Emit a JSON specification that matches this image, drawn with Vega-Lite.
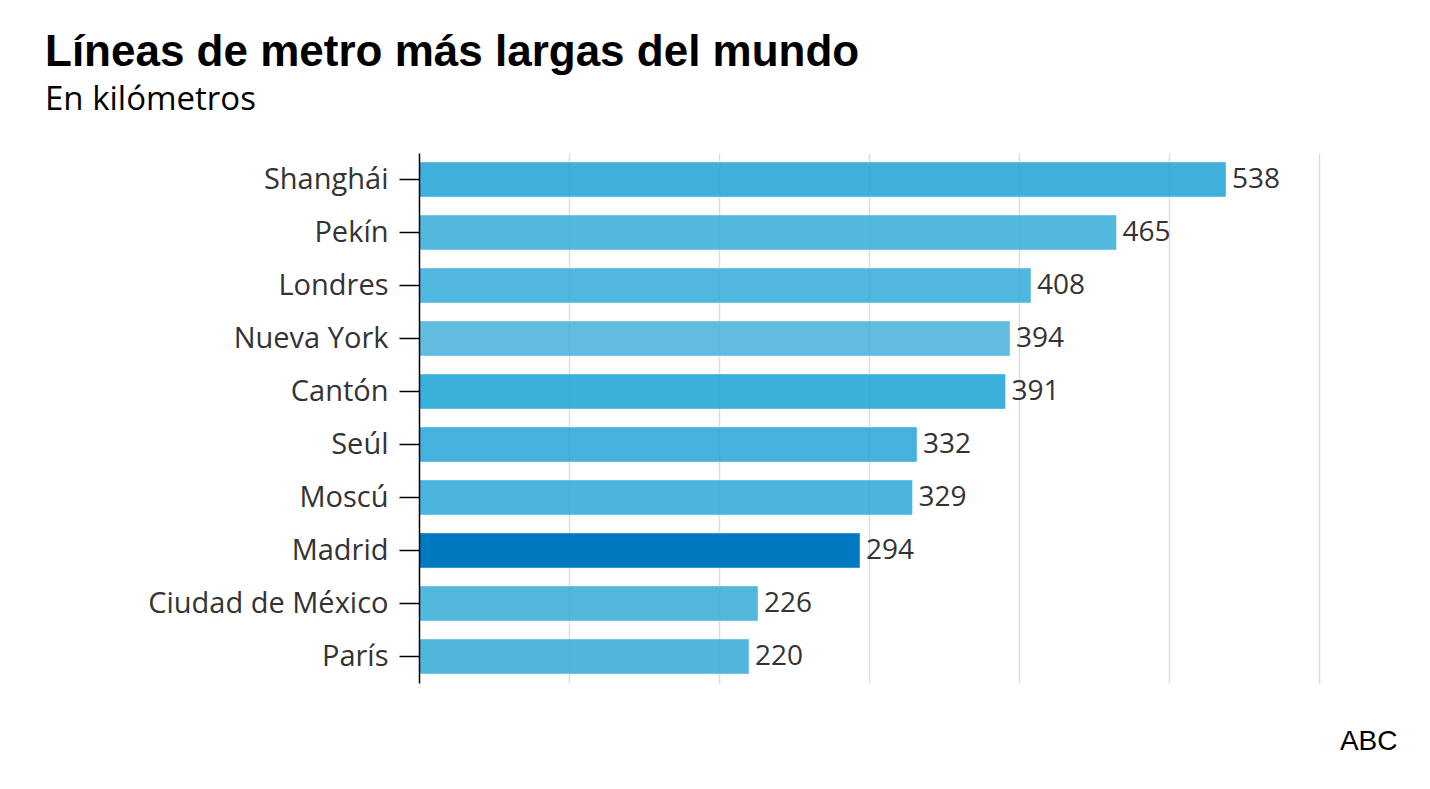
{
  "$schema": "https://vega.github.io/schema/vega-lite/v6.json",
  "width": 900,
  "height": 530,
  "autosize": {"type": "none"},
  "padding": {"left": 419, "top": 153, "right": 111, "bottom": 106},
  "background": "white",
  "title": {
    "text": "Líneas de metro más largas del mundo",
    "subtitle": "En kilómetros",
    "anchor": "start",
    "frame": "group",
    "dx": -374,
    "offset": 36,
    "font": "Liberation Sans",
    "fontSize": 44,
    "fontWeight": "bold",
    "color": "#000000",
    "subtitleFont": "Open Sans",
    "subtitleFontSize": 33,
    "subtitleColor": "#000000",
    "subtitlePadding": 9
  },
  "data": {
    "values": [
      {"ciudad": "Shanghái", "km": 538},
      {"ciudad": "Pekín", "km": 465},
      {"ciudad": "Londres", "km": 408},
      {"ciudad": "Nueva York", "km": 394},
      {"ciudad": "Cantón", "km": 391},
      {"ciudad": "Seúl", "km": 332},
      {"ciudad": "Moscú", "km": 329},
      {"ciudad": "Madrid", "km": 294},
      {"ciudad": "Ciudad de México", "km": 226},
      {"ciudad": "París", "km": 220}
    ]
  },
  "encoding": {
    "y": {
      "field": "ciudad",
      "type": "nominal",
      "sort": null,
      "scale": {"paddingInner": 0.34, "paddingOuter": 0.17},
      "axis": {
        "title": null,
        "zindex": 1,
        "domainColor": "#000000",
        "domainWidth": 1.5,
        "tickColor": "#000000",
        "tickWidth": 1.5,
        "tickSize": 20,
        "labelPadding": 11,
        "labelLimit": 0,
        "labelFont": "Open Sans",
        "labelFontSize": 29,
        "labelColor": "#333333"
      }
    },
    "x": {
      "field": "km",
      "type": "quantitative",
      "scale": {"domain": [0, 600], "nice": false},
      "axis": {
        "values": [100, 200, 300, 400, 500, 600],
        "labels": false,
        "ticks": false,
        "domain": false,
        "grid": true,
        "gridColor": "#dddddd",
        "gridWidth": 1.5,
        "title": "ABC",
        "titleFont": "Liberation Sans",
        "titleFontSize": 28,
        "titleFontWeight": "normal",
        "titleColor": "#000000",
        "titleAlign": "right",
        "titleAnchor": "end",
        "titleBaseline": "alphabetic",
        "titleX": 978,
        "titleY": 66
      }
    }
  },
  "layer": [
    {
      "mark": {"type": "bar", "stroke": "#ffffff", "strokeOpacity": 0.4, "strokeWidth": 1},
      "encoding": {
        "color": {
          "field": "ciudad",
          "type": "nominal",
          "legend": null,
          "scale": {
            "domain": ["Shanghái", "Pekín", "Londres", "Nueva York", "Cantón", "Seúl", "Moscú", "Madrid", "Ciudad de México", "París"],
            "range": ["#2ba7d8", "#40b1db", "#40b0db", "#51b5dd", "#26a8d7", "#30aad9", "#38adda", "#0079c1", "#40b0da", "#3fafd9"]
          }
        },
        "opacity": {
          "condition": {"test": "datum.ciudad === 'Madrid'", "value": 1},
          "value": 0.9
        }
      }
    },
    {
      "mark": {"type": "text", "align": "left", "baseline": "middle", "dx": 6, "font": "Open Sans", "fontSize": 28, "color": "#333333"},
      "encoding": {
        "text": {"field": "km", "type": "quantitative"}
      }
    }
  ],
  "config": {
    "view": {"stroke": null}
  }
}
